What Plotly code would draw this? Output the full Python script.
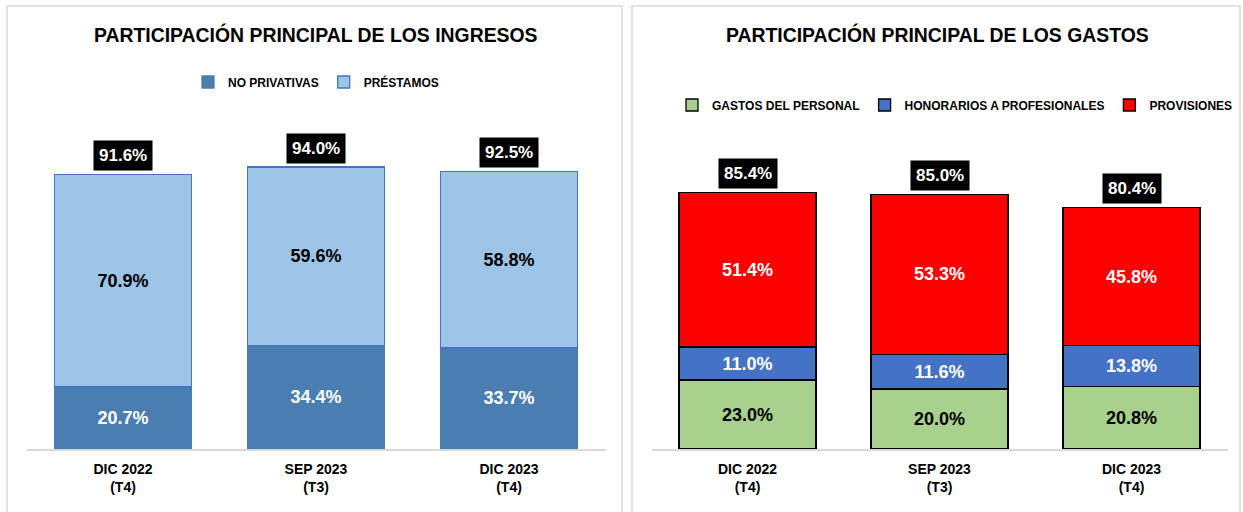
import plotly.graph_objects as go

W, H = 1243, 512
FONT = "Liberation Sans, Arial, sans-serif"

categories = ["DIC 2022<br>(T4)", "SEP 2023<br>(T3)", "DIC 2023<br>(T4)"]

# Ingresos
ing_no_privativas = [20.7, 34.4, 33.7]
ing_prestamos = [70.9, 59.6, 58.8]
ing_totales = [91.6, 94.0, 92.5]

# Gastos
gas_personal = [23.0, 20.0, 20.8]
gas_honorarios = [11.0, 11.6, 13.8]
gas_provisiones = [51.4, 53.3, 45.8]
gas_totales = [85.4, 85.0, 80.4]

def px_x(p):
    return p / W

def px_y(p):
    return 1 - p / H

fig = go.Figure()

def add_bar(name, vals, fill, line, txtcolor, xa, ya, legend):
    fig.add_trace(go.Bar(
        x=categories, y=vals, name=f"<b>{name}</b>", xaxis=xa, yaxis=ya, legend=legend,
        marker=dict(color=fill, line=dict(color=line, width=1.3)),
        texttemplate="<b>%{y:.1f}%</b>", textposition="inside", insidetextanchor="middle",
        constraintext="none",
        textfont=dict(family=FONT, size=18, color=txtcolor),
        hoverinfo="skip",
    ))

add_bar("NO PRIVATIVAS", ing_no_privativas, "#4a7eb0", "#4a7eb0", "white", "x", "y", "legend")
add_bar("PRÉSTAMOS", ing_prestamos, "#9dc3e6", "#4472c4", "black", "x", "y", "legend")

add_bar("GASTOS DEL PERSONAL", gas_personal, "#a9d18e", "black", "black", "x2", "y2", "legend2")
add_bar("HONORARIOS A PROFESIONALES", gas_honorarios, "#4472c4", "black", "white", "x2", "y2", "legend2")
add_bar("PROVISIONES", gas_provisiones, "#ff0000", "black", "white", "x2", "y2", "legend2")

annotations = []
for c, t in zip(categories, ing_totales):
    annotations.append(dict(x=c, y=t, xref="x", yref="y", text=f"<b>{t:.1f}%</b>",
                            showarrow=False, yshift=19, yanchor="middle",
                            bgcolor="black", borderpad=5,
                            font=dict(family=FONT, size=17, color="white")))
for c, t in zip(categories, gas_totales):
    annotations.append(dict(x=c, y=t, xref="x2", yref="y2", text=f"<b>{t:.1f}%</b>",
                            showarrow=False, yshift=19, yanchor="middle",
                            bgcolor="black", borderpad=5,
                            font=dict(family=FONT, size=17, color="white")))

annotations.append(dict(x=px_x(316), y=px_y(34), xref="paper", yref="paper",
                        text="<b>PARTICIPACIÓN PRINCIPAL DE LOS INGRESOS</b>",
                        showarrow=False, xanchor="center", yanchor="middle",
                        font=dict(family=FONT, size=19.4, color="black")))
annotations.append(dict(x=px_x(938), y=px_y(34), xref="paper", yref="paper",
                        text="<b>PARTICIPACIÓN PRINCIPAL DE LOS GASTOS</b>",
                        showarrow=False, xanchor="center", yanchor="middle",
                        font=dict(family=FONT, size=19.4, color="black")))

shapes = [
    dict(type="rect", xref="paper", yref="paper",
         x0=px_x(7), x1=px_x(622), y0=px_y(516), y1=px_y(6),
         line=dict(color="#d9d9d9", width=1.5), fillcolor="rgba(0,0,0,0)"),
    dict(type="rect", xref="paper", yref="paper",
         x0=px_x(632), x1=px_x(1240), y0=px_y(516), y1=px_y(6),
         line=dict(color="#d9d9d9", width=1.5), fillcolor="rgba(0,0,0,0)"),
]

yb = px_y(449)
yt = px_y(149)

xaxis_common = dict(type="category", range=[-0.5, 2.5], showgrid=False, zeroline=False,
                    showline=True, linecolor="#d9d9d9", linewidth=1.5,
                    ticks="", ticklabelstandoff=6,
                    tickfont=dict(family=FONT, size=14, color="black"),
                    fixedrange=True)
yaxis_common = dict(range=[0, 100], visible=False, showgrid=False, zeroline=False,
                    fixedrange=True)

legend_font = dict(family=FONT, size=12, color="black")

fig.update_layout(
    width=W, height=H, autosize=False,
    margin=dict(l=0, r=0, t=0, b=0),
    paper_bgcolor="white", plot_bgcolor="white",
    barmode="stack", bargap=0.287,
    xaxis=dict(domain=[px_x(26.5), px_x(605.5)], anchor="y", **xaxis_common),
    yaxis=dict(domain=[yb, yt], anchor="x", **yaxis_common),
    xaxis2=dict(domain=[px_x(651.5), px_x(1227.5)], anchor="y2", **xaxis_common),
    yaxis2=dict(domain=[yb, yt], anchor="x2", **yaxis_common),
    legend=dict(orientation="h", x=px_x(316), y=px_y(82), xanchor="center", yanchor="middle",
                font=legend_font, bgcolor="rgba(0,0,0,0)", itemclick=False,
                traceorder="normal", itemwidth=30, tracegroupgap=0),
    legend2=dict(orientation="h", x=px_x(955), y=px_y(105), xanchor="center", yanchor="middle",
                 font=legend_font, bgcolor="rgba(0,0,0,0)", itemclick=False,
                 traceorder="normal", itemwidth=30, tracegroupgap=0),
    annotations=annotations,
    shapes=shapes,
    showlegend=True,
)
fig.update_xaxes(tickvals=categories, ticktext=[f"<b>{c}</b>" for c in categories])

fig.write_html(
    "out.html",
    config={"displayModeBar": False},
    post_script="document.body.style.margin='0';document.body.style.padding='0';"
                "document.body.style.overflow='hidden';",
)
